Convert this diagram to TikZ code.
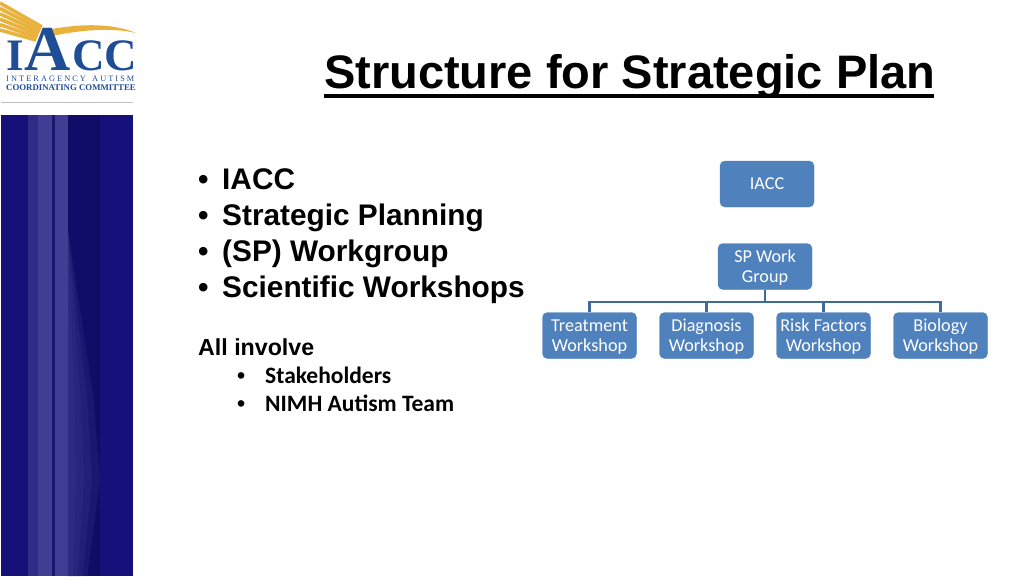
\documentclass[tikz,border=0pt]{standalone}
\usepackage{fontspec}
\setmainfont{Liberation Sans}
\newfontfamily\calibrifont{Carlito}
\newfontfamily\logofont{Liberation Serif}
\usetikzlibrary{arrows.meta, positioning}
\definecolor{boxblue}{HTML}{4F81BD}
\definecolor{boxedge}{HTML}{4A7EBB}
\definecolor{linkblue}{HTML}{3F6A9C}
\definecolor{logoblue}{HTML}{1F4E96}
\definecolor{logogold}{HTML}{E9B23C}
\definecolor{banddark}{HTML}{15107A}
\definecolor{bandlight}{HTML}{403E92}
\definecolor{bandmid}{HTML}{100D68}
\newcommand{\boxstrut}{\rule[-4.5pt]{0pt}{20pt}}
\tikzset{
  orgbox/.style={draw=boxedge, fill=boxblue, rounded corners=5pt, minimum width=94pt, minimum height=46pt,
    inner sep=0pt, align=center, text=white, font=\calibrifont\fontsize{18.2}{20}\selectfont},
  link/.style={draw=linkblue, line width=2.4pt},
  bigitem/.style={anchor=base west, inner sep=0pt, font=\bfseries\fontsize{29.8}{30}\selectfont},
  smallitem/.style={anchor=base west, inner sep=0pt, font=\calibrifont\bfseries\fontsize{23.5}{24}\selectfont},
  smalldot/.style={anchor=base west, inner sep=0pt, font=\bfseries\fontsize{23}{23}\selectfont},
  logotext/.style={anchor=base west, inner sep=0pt, text=logoblue, font=\logofont\bfseries\fontsize{45}{45}\selectfont}
}
\begin{document}
\begin{tikzpicture}[x=1pt, y=-1pt]
\useasboundingbox (0,0) rectangle (1024,576);

% Left band
\fill[banddark] (1,115) rectangle (133,576);
\fill[bandmid] (68,115) rectangle (100,576);
\fill[bandlight!60!banddark] (28,115) rectangle (38,576);
\fill[bandlight] (38,115) rectangle (68,576);
\fill[bandmid!80!bandlight] (52,115) rectangle (55,576);
% soft wedge low on the band
\foreach \w in {8,16,24,32} {
  \fill[bandlight, opacity=0.22] (68,576) -- (68,230) -- (68+0.8*\w,400) -- (68+\w,480) -- (68+0.6*\w,576) -- cycle;
}

% Logo
\foreach \i in {0,...,5} {
  \draw[logogold, line width=3.6pt] (0,3+5.4*\i) -- (42-1.2*\i,27+2.6*\i);
}
\fill[logogold] (52,29) .. controls (85,23) and (115,24) .. (136,33) .. controls (115,28) and (85,29) .. (52,36) -- cycle;
\node[logotext] (logoi) at (6,70) {I};
\node[logotext, font=\logofont\bfseries\fontsize{64}{64}\selectfont] (logoa) at (24,70) {A};
\node[logotext] (logoc) at (72,70) {CC};
\node[logotext, font=\logofont\fontsize{8.3}{9}\selectfont] (logotop) at (6,81) {I N T E R A G E N C Y\ \ \ A U T I S M};
\node[logotext, font=\logofont\bfseries\fontsize{8.8}{9}\selectfont] (logobot) at (6,90) {COORDINATING COMMITTEE};
\draw[gray!50] (1,102) -- (133,102);

% Title
\node[anchor=base west, inner sep=0pt, font=\bfseries\fontsize{47}{47}\selectfont] (title) at (324,88) {Structure for Strategic Plan};
\fill (324,93.5) rectangle (934,97.5);

% Main list
\node[bigitem] (iacc) at (222,189) {IACC};
\node[bigitem] (plan) at (222,225) {Strategic Planning};
\node[bigitem] (group) at (222,261) {(SP) Workgroup};
\node[bigitem] (shops) at (222,297) {Scientific Workshops};
\foreach \y/\n in {189/a,225/b,261/c,297/d} {
  \node[bigitem] (dot\n) at (198,\y) {•};
}

% Second list
\node[anchor=base west, inner sep=0pt, font=\bfseries\fontsize{23.2}{24}\selectfont] (involve) at (198,355) {All involve};
\node[smallitem] (stake) at (265,383) {Stakeholders};
\node[smallitem] (team) at (265,411) {NIMH Autism Team};
\node[smalldot] (dote) at (237,383) {•};
\node[smalldot] (dotf) at (237,411) {•};

% Boxes
\node[orgbox] (top) at (767,184) {\boxstrut IACC};
\node[orgbox] (sp) at (765,266.5) {\boxstrut SP Work\\\boxstrut Group};
\node[orgbox] (treat) at (589.5,335.5) {\boxstrut Treatment\\\boxstrut Workshop};
\node[orgbox] (diag) at (706.5,335.5) {\boxstrut Diagnosis\\\boxstrut Workshop};
\node[orgbox] (risk) at (823.5,335.5) {\boxstrut Risk Factors\\\boxstrut Workshop};
\node[orgbox] (bio) at (940.5,335.5) {\boxstrut Biology\\\boxstrut Workshop};

% Connectors
\draw[link] (sp.south) -- ++(0,12) -| (treat.north);
\draw[link] (sp.south) -- ++(0,12) -| (diag.north);
\draw[link] (sp.south) -- ++(0,12) -| (risk.north);
\draw[link] (sp.south) -- ++(0,12) -| (bio.north);

\end{tikzpicture}
\end{document}
